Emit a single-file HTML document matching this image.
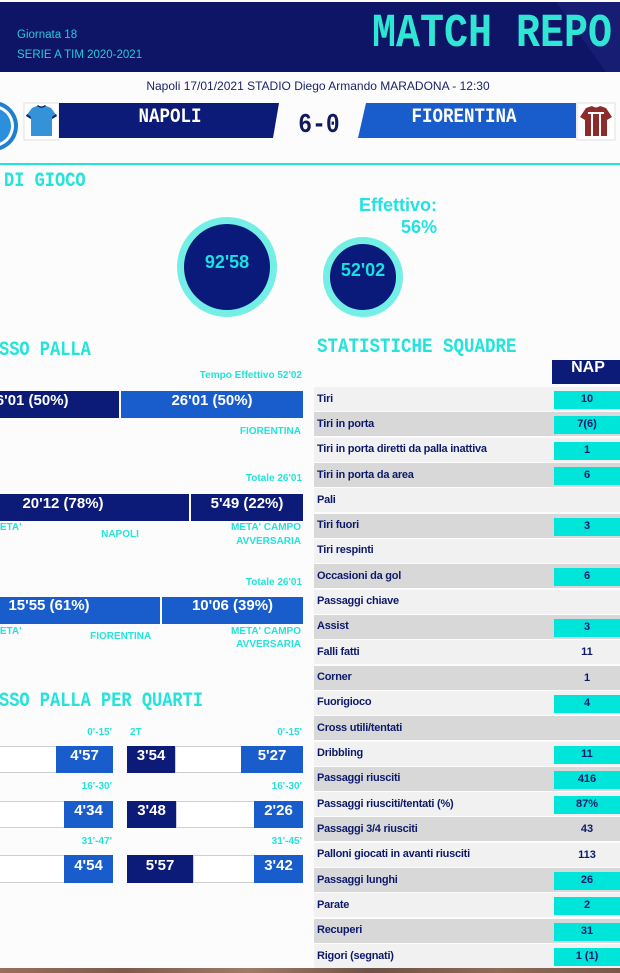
<!DOCTYPE html>
<html><head><meta charset="utf-8">
<style>
*{margin:0;padding:0;box-sizing:border-box}
html,body{width:620px;height:973px;overflow:hidden;background:#fcfcfc;position:relative;font-family:"Liberation Sans",sans-serif}
.a{position:absolute;white-space:nowrap}
.s{font-family:"Liberation Sans",sans-serif;font-weight:bold}
.m{font-family:"Liberation Mono",monospace;font-weight:bold;transform:scaleY(1.18);transform-origin:0 44%}
.c{color:#24e3da}
.l10{font-size:10px;line-height:10px}
.b15{font-size:15px;line-height:15px;color:#fff;text-align:center;width:200px}
.nv{background:#0c1a78}
.bl{background:#195dcc}
.wb{background:#fff;border:1px solid #cfcfcf}
.row{position:absolute;left:314px;width:306px;height:24px}
.row .lb{position:absolute;left:3px;top:6.5px;font-size:11px;line-height:11px;font-weight:bold;color:#0d1a6b;letter-spacing:-0.25px;white-space:nowrap}
.row .v{position:absolute;left:240px;top:4px;width:66px;height:18px;font-size:11px;line-height:17px;font-weight:bold;color:#0d1a6b;text-align:center}
.row .cy{background:#00e5d9}
.lt{background:#f1f1f1}
.dk{background:#d8d8d8}
</style></head><body>

<!-- HEADER -->
<div class="a" style="left:0;top:2px;width:620px;height:70px;background:#0f1566"></div>
<svg class="a" style="left:0;top:0" width="620" height="170">
  <polygon points="556,2 620,2 620,72 606,72" fill="#161d72"/>
  <circle cx="-7" cy="126" r="25" fill="#1f7fd0"/>
  <circle cx="-7" cy="126" r="21" fill="#ffffff"/>
  <circle cx="-7" cy="126" r="18" fill="#2a8fdc"/>
  <rect x="24" y="103" width="35" height="37" fill="#ffffff" stroke="#e0e0e0" stroke-width="1"/>
  <path d="M32,108 L37,106 Q41.5,110 46,106 L51,108 L57,116 L52,119 L52,136 L31,136 L31,119 L26,116 Z" fill="#3592d8"/>
  <path d="M37,106 Q41.5,110 46,106 L45,105 Q41.5,108 38,105 Z" fill="#0d2a5e"/>
  <path d="M26,116 L31,119 L31,117 L27,114 Z" fill="#0d2a5e"/>
  <path d="M57,116 L52,119 L52,117 L56,114 Z" fill="#0d2a5e"/>
  <polygon points="59,103 279,103 273,138 59,138" fill="#0c1a78"/>
  <polygon points="366,103 576,103 576,138 358,138" fill="#195dcc"/>
  <rect x="577" y="103" width="38" height="37" fill="#ffffff" stroke="#e0e0e0" stroke-width="1"/>
  <path d="M586,108 L592,106 Q596,109 600,106 L606,108 L612,117 L607,120 L607,136 L585,136 L585,120 L580,117 Z" fill="#8d2a2a"/>
  <rect x="591" y="112" width="2" height="24" fill="#ffffff"/>
  <rect x="599" y="112" width="2" height="24" fill="#ffffff"/>
  <rect x="588" y="112" width="16" height="2" fill="#ffffff"/>
</svg>

<div class="a" style="left:17px;top:30px;font-size:11.5px;line-height:11.5px;color:#27c9d9">Giornata 18</div>
<div class="a" style="left:17px;top:49.5px;font-size:11.5px;line-height:11.5px;color:#27c9d9">SERIE A TIM 2020-2021</div>
<div class="a m" style="left:372px;top:15px;font-size:40px;line-height:40px;color:#2ee6d3">MATCH REPO</div>

<div class="a" style="left:118px;top:80px;width:400px;text-align:center;font-size:12px;line-height:12px;color:#1c2466">Napoli 17/01/2021 STADIO Diego Armando MARADONA - 12:30</div>

<div class="a m" style="left:70px;top:109px;width:200px;text-align:center;font-size:17.5px;line-height:17.5px;color:#fff">NAPOLI</div>
<div class="a m" style="left:364px;top:109px;width:200px;text-align:center;font-size:17.5px;line-height:17.5px;color:#fff">FIORENTINA</div>
<div class="a m" style="left:269px;top:114.4px;width:100px;text-align:center;font-size:23px;line-height:23px;color:#0f1a5e">6-0</div>

<div class="a" style="left:0;top:163px;width:620px;height:2px;background:#22e3e0"></div>

<!-- TEMPO DI GIOCO -->
<div class="a m c" style="left:4px;top:172.5px;font-size:17px;line-height:17px">DI GIOCO</div>
<div class="a s c" style="right:183px;top:196px;font-size:18px;line-height:18px;color:#22e2e2">Effettivo:</div>
<div class="a s c" style="right:183px;top:218px;font-size:18px;line-height:18px;color:#22e2e2">56%</div>

<svg class="a" style="left:0;top:200px" width="620" height="130">
  <circle cx="227" cy="67" r="46.5" fill="#0a1a7a" stroke="#74efe6" stroke-width="7"/>
  <circle cx="363" cy="77" r="36.5" fill="#0a1a7a" stroke="#74efe6" stroke-width="7"/>
</svg>
<div class="a s" style="left:127px;top:253px;width:200px;text-align:center;font-size:18px;line-height:18px;color:#19e0e0">92'58</div>
<div class="a s" style="left:263px;top:261px;width:200px;text-align:center;font-size:18px;line-height:18px;color:#19e0e0">52'02</div>

<!-- POSSESSO PALLA -->
<div class="a m c" style="left:-1px;top:341.5px;font-size:17px;line-height:17px">SSO PALLA</div>
<div class="a s c l10" style="right:318px;top:371px">Tempo Effettivo 52'02</div>

<div class="a nv" style="left:-63px;top:391px;width:182px;height:27px"></div>
<div class="a bl" style="left:121px;top:391px;width:182px;height:27px"></div>
<div class="a s b15" style="left:-72px;top:393px">26'01 (50%)</div>
<div class="a s b15" style="left:112px;top:393px">26'01 (50%)</div>
<div class="a s c l10" style="right:319px;top:426.7px">FIORENTINA</div>

<div class="a s c l10" style="right:318px;top:474px">Totale 26'01</div>
<div class="a nv" style="left:-200px;top:494px;width:389px;height:27px"></div>
<div class="a nv" style="left:191px;top:494px;width:112px;height:27px"></div>
<div class="a s b15" style="left:-37px;top:495.5px">20'12 (78%)</div>
<div class="a s b15" style="left:147px;top:495.5px">5'49 (22%)</div>
<div class="a s c l10" style="left:-8.5px;top:523px">META'</div>
<div class="a s c l10" style="left:20px;top:530px;width:200px;text-align:center">NAPOLI</div>
<div class="a s c l10" style="right:319px;top:522.8px">META' CAMPO</div>
<div class="a s c l10" style="right:319px;top:536.7px">AVVERSARIA</div>

<div class="a s c l10" style="right:318px;top:577.5px">Totale 26'01</div>
<div class="a bl" style="left:-200px;top:597px;width:360px;height:27px"></div>
<div class="a bl" style="left:162px;top:597px;width:141px;height:27px"></div>
<div class="a s b15" style="left:-51px;top:598px">15'55 (61%)</div>
<div class="a s b15" style="left:132.5px;top:598px">10'06 (39%)</div>
<div class="a s c l10" style="left:-8.5px;top:626.7px">META'</div>
<div class="a s c l10" style="left:20.7px;top:632px;width:200px;text-align:center">FIORENTINA</div>
<div class="a s c l10" style="right:319px;top:626.5px">META' CAMPO</div>
<div class="a s c l10" style="right:319px;top:639.5px">AVVERSARIA</div>

<!-- QUARTI -->
<div class="a m c" style="left:-1px;top:693px;font-size:17px;line-height:17px">SSO PALLA PER QUARTI</div>

<div class="a s c l10" style="right:508px;top:727.5px">0'-15'</div>
<div class="a s c l10" style="left:130px;top:727.5px">2T</div>
<div class="a s c l10" style="right:318px;top:727.5px">0'-15'</div>
<div class="a wb" style="left:-2px;top:746px;width:59px;height:27px"></div>
<div class="a bl" style="left:56px;top:746px;width:57px;height:27px"></div>
<div class="a nv" style="left:127px;top:746px;width:48px;height:27px"></div>
<div class="a wb" style="left:175px;top:746px;width:67px;height:27px"></div>
<div class="a bl" style="left:241px;top:746px;width:62px;height:27px"></div>
<div class="a s b15" style="left:-15.5px;top:748px">4'57</div>
<div class="a s b15" style="left:51px;top:748px">3'54</div>
<div class="a s b15" style="left:172px;top:748px">5'27</div>

<div class="a s c l10" style="right:508px;top:782.3px">16'-30'</div>
<div class="a s c l10" style="right:318px;top:782.3px">16'-30'</div>
<div class="a wb" style="left:-2px;top:801px;width:67px;height:27px"></div>
<div class="a bl" style="left:64px;top:801px;width:49px;height:27px"></div>
<div class="a nv" style="left:127px;top:801px;width:49px;height:27px"></div>
<div class="a wb" style="left:176px;top:801px;width:79px;height:27px"></div>
<div class="a bl" style="left:254px;top:801px;width:49px;height:27px"></div>
<div class="a s b15" style="left:-11.5px;top:803px">4'34</div>
<div class="a s b15" style="left:51.5px;top:803px">3'48</div>
<div class="a s b15" style="left:178.5px;top:803px">2'26</div>

<div class="a s c l10" style="right:508px;top:836.7px">31'-47'</div>
<div class="a s c l10" style="right:318px;top:836.7px">31'-45'</div>
<div class="a wb" style="left:-2px;top:855px;width:67px;height:28px"></div>
<div class="a bl" style="left:64px;top:855px;width:49px;height:28px"></div>
<div class="a nv" style="left:127px;top:855px;width:66px;height:28px"></div>
<div class="a wb" style="left:193px;top:855px;width:62px;height:28px"></div>
<div class="a bl" style="left:254px;top:855px;width:49px;height:28px"></div>
<div class="a s b15" style="left:-11.5px;top:857.5px">4'54</div>
<div class="a s b15" style="left:60px;top:857.5px">5'57</div>
<div class="a s b15" style="left:178.5px;top:857.5px">3'42</div>

<!-- STATISTICHE SQUADRE -->
<div class="a m c" style="left:317px;top:338.8px;font-size:17.5px;line-height:17.5px">STATISTICHE SQUADRE</div>
<div class="a nv" style="left:552px;top:360px;width:68px;height:24px"></div>
<div class="a s" style="left:552px;top:360px;width:72px;text-align:center;font-size:16px;line-height:16px;color:#fff">NAP</div>

<div class="row lt" style="top:387px"><div class="lb">Tiri</div><div class="v cy">10</div></div>
<div class="row dk" style="top:412.3px"><div class="lb">Tiri in porta</div><div class="v cy">7(6)</div></div>
<div class="row lt" style="top:437.6px"><div class="lb">Tiri in porta diretti da palla inattiva</div><div class="v cy">1</div></div>
<div class="row dk" style="top:463px"><div class="lb">Tiri in porta da area</div><div class="v cy">6</div></div>
<div class="row lt" style="top:488.3px"><div class="lb">Pali</div></div>
<div class="row dk" style="top:513.6px"><div class="lb">Tiri fuori</div><div class="v cy">3</div></div>
<div class="row lt" style="top:538.9px"><div class="lb">Tiri respinti</div></div>
<div class="row dk" style="top:564.2px"><div class="lb">Occasioni da gol</div><div class="v cy">6</div></div>
<div class="row lt" style="top:589.6px"><div class="lb">Passaggi chiave</div></div>
<div class="row dk" style="top:614.9px"><div class="lb">Assist</div><div class="v cy">3</div></div>
<div class="row lt" style="top:640.2px"><div class="lb">Falli fatti</div><div class="v">11</div></div>
<div class="row dk" style="top:665.5px"><div class="lb">Corner</div><div class="v">1</div></div>
<div class="row lt" style="top:690.8px"><div class="lb">Fuorigioco</div><div class="v cy">4</div></div>
<div class="row dk" style="top:716.2px"><div class="lb">Cross utili/tentati</div></div>
<div class="row lt" style="top:741.5px"><div class="lb">Dribbling</div><div class="v cy">11</div></div>
<div class="row dk" style="top:766.8px"><div class="lb">Passaggi riusciti</div><div class="v cy">416</div></div>
<div class="row lt" style="top:792.1px"><div class="lb">Passaggi riusciti/tentati (%)</div><div class="v cy">87%</div></div>
<div class="row dk" style="top:817.4px"><div class="lb">Passaggi 3/4 riusciti</div><div class="v">43</div></div>
<div class="row lt" style="top:842.8px"><div class="lb">Palloni giocati in avanti riusciti</div><div class="v">113</div></div>
<div class="row dk" style="top:868.1px"><div class="lb">Passaggi lunghi</div><div class="v cy">26</div></div>
<div class="row lt" style="top:893.4px"><div class="lb">Parate</div><div class="v cy">2</div></div>
<div class="row dk" style="top:918.7px"><div class="lb">Recuperi</div><div class="v cy">31</div></div>
<div class="row lt" style="top:944px"><div class="lb">Rigori (segnati)</div><div class="v cy">1 (1)</div></div>

<div class="a" style="left:0;top:968px;width:620px;height:5px;background:linear-gradient(90deg,#9a6e5c,#7d5a4c 20%,#a07a68 40%,#6d5245 60%,#8e6a58 80%,#7a5848)"></div>

</body></html>
